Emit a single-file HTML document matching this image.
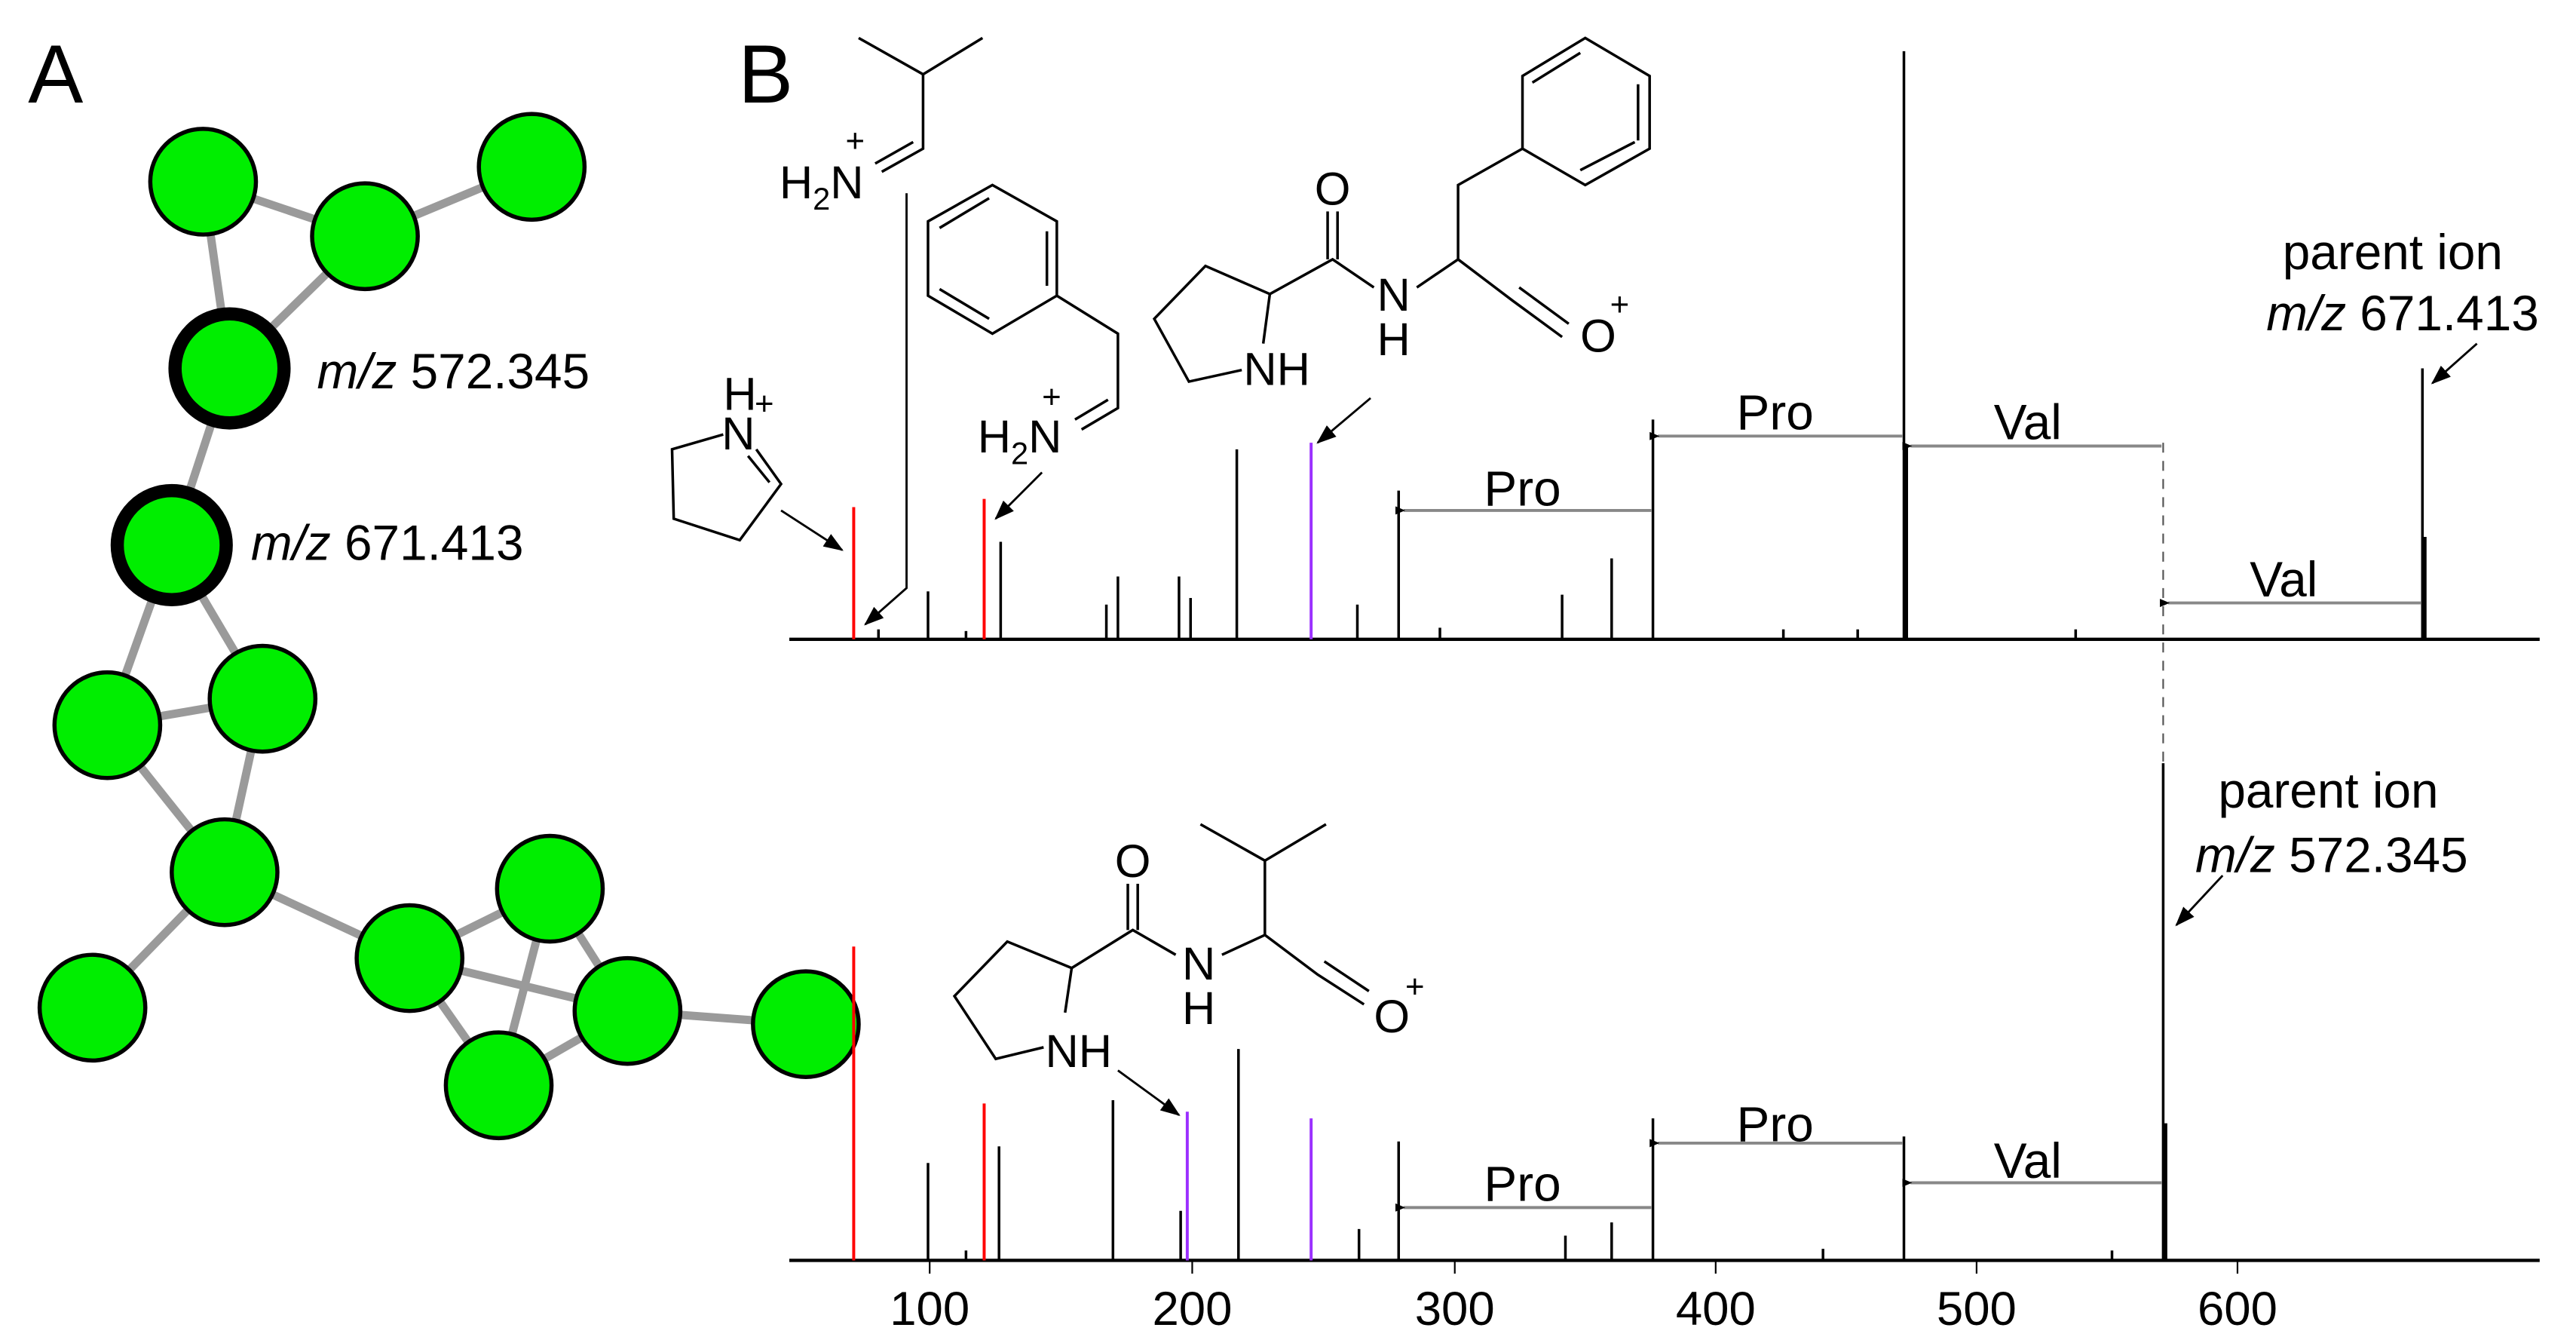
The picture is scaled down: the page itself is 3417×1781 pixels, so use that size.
<!DOCTYPE html>
<html><head><meta charset="utf-8"><style>
html,body{margin:0;padding:0;background:#fff;}
svg{display:block;}
text{font-family:"Liberation Sans",sans-serif;fill:#000;}
</style></head><body>
<svg width="3417" height="1781" viewBox="0 0 1560 813" preserveAspectRatio="none" xmlns="http://www.w3.org/2000/svg">
<defs>
<marker id="ah" markerWidth="12" markerHeight="9" refX="11" refY="4.5" orient="auto" markerUnits="userSpaceOnUse"><path d="M0,0 L12,4.5 L0,9 z" fill="#000"/></marker>
<marker id="sh" markerWidth="6" markerHeight="5" refX="1" refY="2.5" orient="auto-start-reverse" markerUnits="userSpaceOnUse"><path d="M6,0 L0,2.5 L6,5 z" fill="#000"/></marker>
</defs>
<text x="17" y="62" font-size="50">A</text>
<text x="447" y="62" font-size="50">B</text>

<g stroke="#9a9a9a" stroke-width="5" fill="none">
<line x1="123" y1="110" x2="221" y2="143"/>
<line x1="123" y1="110" x2="139" y2="223"/>
<line x1="221" y1="143" x2="322" y2="101"/>
<line x1="221" y1="143" x2="139" y2="223"/>
<line x1="139" y1="223" x2="104" y2="330"/>
<line x1="104" y1="330" x2="65" y2="439"/>
<line x1="104" y1="330" x2="159" y2="423"/>
<line x1="65" y1="439" x2="159" y2="423"/>
<line x1="65" y1="439" x2="136" y2="528"/>
<line x1="159" y1="423" x2="136" y2="528"/>
<line x1="136" y1="528" x2="56" y2="610"/>
<line x1="136" y1="528" x2="248" y2="580"/>
<line x1="248" y1="580" x2="333" y2="538"/>
<line x1="248" y1="580" x2="380" y2="612"/>
<line x1="248" y1="580" x2="302" y2="657"/>
<line x1="333" y1="538" x2="302" y2="657"/>
<line x1="333" y1="538" x2="380" y2="612"/>
<line x1="302" y1="657" x2="380" y2="612"/>
<line x1="380" y1="612" x2="488" y2="620"/>
</g>
<g fill="#00ee00" stroke="#000" stroke-width="2.5">
<circle cx="123" cy="110" r="32"/>
<circle cx="221" cy="143" r="32"/>
<circle cx="322" cy="101" r="32"/>
<circle cx="139" cy="223" r="33" stroke-width="8"/>
<circle cx="104" cy="330" r="33" stroke-width="8"/>
<circle cx="65" cy="439" r="32"/>
<circle cx="159" cy="423" r="32"/>
<circle cx="136" cy="528" r="32"/>
<circle cx="56" cy="610" r="32"/>
<circle cx="248" cy="580" r="32"/>
<circle cx="333" cy="538" r="32"/>
<circle cx="380" cy="612" r="32"/>
<circle cx="302" cy="657" r="32"/>
<circle cx="488" cy="620" r="32"/>
</g>
<text x="192" y="235" font-size="30"><tspan font-style="italic">m/z</tspan> 572.345</text>
<text x="152" y="339" font-size="30"><tspan font-style="italic">m/z</tspan> 671.413</text>

<g stroke="#000" stroke-width="2">
<line x1="478" y1="387" x2="1538" y2="387"/>
<line x1="478" y1="763" x2="1538" y2="763"/>
</g>
<g stroke="#000" stroke-width="1">
<line x1="563" y1="763" x2="563" y2="771"/><line x1="722" y1="763" x2="722" y2="771"/>
<line x1="881" y1="763" x2="881" y2="771"/><line x1="1039" y1="763" x2="1039" y2="771"/>
<line x1="1197" y1="763" x2="1197" y2="771"/><line x1="1355" y1="763" x2="1355" y2="771"/>
</g>
<g font-size="29" text-anchor="middle">
<text x="563" y="802">100</text><text x="722" y="802">200</text><text x="881" y="802">300</text>
<text x="1039" y="802">400</text><text x="1197" y="802">500</text><text x="1355" y="802">600</text>
</g>

<g stroke="#000" stroke-width="1.6">
<line x1="562" y1="387" x2="562" y2="358"/>
<line x1="606" y1="387" x2="606" y2="328"/>
<line x1="670" y1="387" x2="670" y2="366"/>
<line x1="677" y1="387" x2="677" y2="349"/>
<line x1="714" y1="387" x2="714" y2="349"/>
<line x1="721" y1="387" x2="721" y2="362"/>
<line x1="749" y1="387" x2="749" y2="272"/>
<line x1="822" y1="387" x2="822" y2="366"/>
<line x1="847" y1="387" x2="847" y2="297"/>
<line x1="946" y1="387" x2="946" y2="360"/>
<line x1="976" y1="387" x2="976" y2="338"/>
<line x1="1001" y1="387" x2="1001" y2="254"/>
<line x1="1153" y1="387" x2="1153" y2="31"/>
<line x1="1467" y1="387" x2="1467" y2="223"/>
<line x1="1154" y1="387" x2="1154" y2="270" stroke-width="3"/>
<line x1="1468" y1="387" x2="1468" y2="325" stroke-width="3"/>
<line x1="532" y1="387" x2="532" y2="381"/><line x1="585" y1="387" x2="585" y2="382"/>
<line x1="872" y1="387" x2="872" y2="380"/><line x1="1080" y1="387" x2="1080" y2="381"/>
<line x1="1125" y1="387" x2="1125" y2="381"/><line x1="1257" y1="387" x2="1257" y2="381"/>
</g>
<g stroke-width="1.8">
<line x1="517" y1="387" x2="517" y2="307" stroke="#f00"/>
<line x1="596" y1="387" x2="596" y2="302" stroke="#f00"/>
<line x1="794" y1="387" x2="794" y2="268" stroke="#9b30ff"/>
</g>

<g stroke="#000" stroke-width="1.6">
<line x1="562" y1="763" x2="562" y2="704"/>
<line x1="605" y1="763" x2="605" y2="694"/>
<line x1="674" y1="763" x2="674" y2="666"/>
<line x1="715" y1="763" x2="715" y2="733"/>
<line x1="750" y1="763" x2="750" y2="635"/>
<line x1="823" y1="763" x2="823" y2="744"/>
<line x1="847" y1="763" x2="847" y2="691"/>
<line x1="948" y1="763" x2="948" y2="748"/>
<line x1="976" y1="763" x2="976" y2="740"/>
<line x1="1001" y1="763" x2="1001" y2="677"/>
<line x1="1153" y1="763" x2="1153" y2="688"/>
<line x1="1310" y1="763" x2="1310" y2="462"/>
<line x1="1311" y1="763" x2="1311" y2="680" stroke-width="3"/>
<line x1="585" y1="763" x2="585" y2="757"/><line x1="1104" y1="763" x2="1104" y2="756"/>
<line x1="1279" y1="763" x2="1279" y2="757"/>
</g>
<g stroke-width="1.8">
<line x1="517" y1="763" x2="517" y2="573" stroke="#f00"/>
<line x1="596" y1="763" x2="596" y2="668" stroke="#f00"/>
<line x1="719" y1="763" x2="719" y2="673" stroke="#9b30ff"/>
<line x1="794" y1="763" x2="794" y2="677" stroke="#9b30ff"/>
</g>

<line x1="1310" y1="268" x2="1310" y2="462" stroke="#555" stroke-width="1" stroke-dasharray="6,5"/>

<g stroke="#888" stroke-width="1.8">
<line x1="1004" y1="264" x2="1152" y2="264" marker-start="url(#sh)"/>
<line x1="1157" y1="270" x2="1309" y2="270" marker-start="url(#sh)"/>
<line x1="850" y1="309" x2="1000" y2="309" marker-start="url(#sh)"/>
<line x1="1313" y1="365" x2="1466" y2="365" marker-start="url(#sh)"/>
<line x1="1004" y1="692" x2="1152" y2="692" marker-start="url(#sh)"/>
<line x1="1157" y1="716" x2="1309" y2="716" marker-start="url(#sh)"/>
<line x1="850" y1="731" x2="1000" y2="731" marker-start="url(#sh)"/>
</g>
<g font-size="30" text-anchor="middle">
<text x="1075" y="260">Pro</text>
<text x="1228" y="266">Val</text>
<text x="922" y="306">Pro</text>
<text x="1383" y="361">Val</text>
<text x="1075" y="691">Pro</text>
<text x="1228" y="713">Val</text>
<text x="922" y="727">Pro</text>
<text x="1449" y="163">parent ion</text>
<text x="1455" y="200"><tspan font-style="italic">m/z</tspan> 671.413</text>
<text x="1410" y="489">parent ion</text>
<text x="1412" y="528"><tspan font-style="italic">m/z</tspan> 572.345</text>
</g>

<g stroke="#000" stroke-width="1.3" fill="none">
<line x1="1500" y1="208" x2="1473" y2="232" marker-end="url(#ah)"/>
<line x1="1346" y1="530" x2="1318" y2="560" marker-end="url(#ah)"/>
<polyline points="549,117 549,356 524,378" marker-end="url(#ah)"/>
<line x1="473" y1="309" x2="510" y2="333" marker-end="url(#ah)"/>
<line x1="631" y1="286" x2="603" y2="314" marker-end="url(#ah)"/>
<line x1="830" y1="241" x2="798" y2="268" marker-end="url(#ah)"/>
<line x1="677" y1="648" x2="714" y2="675" marker-end="url(#ah)"/>
</g>

<g stroke="#000" stroke-width="1.6" fill="none">
<polyline points="520,23 559,45 595,23"/>
<polyline points="559,45 559,90 534,104"/>
<line x1="553" y1="86" x2="530" y2="99"/>
<polyline points="438,263 407,272 408,314 448,327 473,293 458,272"/>
<line x1="466" y1="292" x2="453" y2="276"/>
<polygon points="601,112 640,134 640,179 601,202 562,179 562,134"/>
<line x1="634" y1="140" x2="634" y2="173"/>
<line x1="569" y1="175" x2="599" y2="193"/>
<line x1="569" y1="138" x2="599" y2="120"/>
<polyline points="640,179 677,202 677,247 655,260"/>
<line x1="671" y1="242" x2="651" y2="254"/>
<polyline points="752,224 720,231 699,193 730,161 769,178 765,208"/>
<polyline points="769,178 807,157 832,174"/>
<line x1="804" y1="157" x2="804" y2="128"/><line x1="810" y1="157" x2="810" y2="128"/>
<polyline points="858,174 883,157 883,112 922,90"/>
<polyline points="883,157 916,182 946,204"/>
<line x1="920" y1="174" x2="950" y2="196"/>
<polygon points="960,23 999,46 999,90 960,112 922,90 922,46"/>
<line x1="992" y1="51" x2="992" y2="85"/>
<line x1="928" y1="50" x2="957" y2="32"/>
<line x1="957" y1="103" x2="990" y2="86"/>
<polyline points="632,634 603,641 578,603 610,570 649,586 645,613"/>
<polyline points="649,586 686,563 712,578"/>
<line x1="683" y1="563" x2="683" y2="535"/><line x1="689" y1="563" x2="689" y2="535"/>
<polyline points="740,578 766,566 766,521 727,499"/>
<line x1="766" y1="521" x2="803" y2="499"/>
<polyline points="766,566 798,590 826,608"/>
<line x1="802" y1="582" x2="829" y2="600"/>
</g>
<g font-size="28">
<text x="472" y="120">H<tspan font-size="19" dy="7">2</tspan><tspan dy="-7">N</tspan></text>
<text x="512" y="92" font-size="20">+</text>
<text x="438" y="248">H</text>
<text x="457" y="251" font-size="20">+</text>
<text x="437" y="272">N</text>
<text x="592" y="274">H<tspan font-size="19" dy="7">2</tspan><tspan dy="-7">N</tspan></text>
<text x="631" y="247" font-size="20">+</text>
<text x="753" y="233">NH</text>
<text x="807" y="124" text-anchor="middle">O</text>
<text x="844" y="188" text-anchor="middle">N</text>
<text x="844" y="215" text-anchor="middle">H</text>
<text x="957" y="213">O</text>
<text x="975" y="191" font-size="20">+</text>
<text x="633" y="646">NH</text>
<text x="686" y="531" text-anchor="middle">O</text>
<text x="726" y="593" text-anchor="middle">N</text>
<text x="726" y="620" text-anchor="middle">H</text>
<text x="832" y="625">O</text>
<text x="851" y="604" font-size="20">+</text>
</g>
</svg>
</body></html>
